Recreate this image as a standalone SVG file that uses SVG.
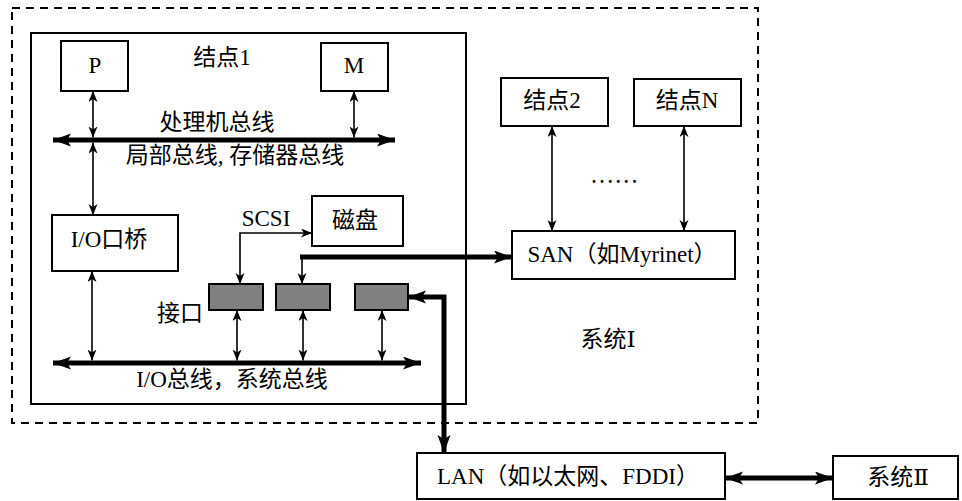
<svg xmlns="http://www.w3.org/2000/svg" width="962" height="501" viewBox="0 0 962 501">
<style>
  text { font-family: "Liberation Serif", "DejaVu Serif", "Noto Sans CJK SC", serif; font-size: 23px; fill: #000; text-anchor: middle; }
  .box { fill: #fff; stroke: #000; stroke-width: 2; }
  .iface { fill: #808080; stroke: #000; stroke-width: 2; }
  .thin { fill: none; stroke: #000; stroke-width: 1.6; marker-start: url(#a); marker-end: url(#a); }
  .thin1 { fill: none; stroke: #000; stroke-width: 1.6; marker-end: url(#a); }
  .thick { fill: none; stroke: #000; stroke-width: 5; marker-start: url(#b); marker-end: url(#b); }
  .thick1 { fill: none; stroke: #000; stroke-width: 5; marker-end: url(#b); }
</style>
<defs>
  <marker id="a" markerUnits="userSpaceOnUse" markerWidth="12" markerHeight="10" refX="11" refY="4.5" orient="auto-start-reverse" viewBox="0 0 12 10">
    <path d="M0,0 L11,4.5 L0,9 L3,4.5 z" fill="#000"/>
  </marker>
  <marker id="b" markerUnits="userSpaceOnUse" markerWidth="20" markerHeight="14" refX="18" refY="6.5" orient="auto-start-reverse" viewBox="0 0 20 14">
    <path d="M0,0 L18,6.5 L0,13 L4,6.5 z" fill="#000"/>
  </marker>
</defs>

<g id="system1">
  <rect x="12" y="8" width="746" height="415" fill="none" stroke="#000" stroke-width="2" stroke-dasharray="8 6"/>
  <text x="608" y="347">系统Ⅰ</text>
</g>

<g id="node1">
  <rect class="box" x="31" y="33" width="435" height="371"/>
  <text x="222" y="65">结点1</text>
</g>

<g id="P"><rect class="box" x="61" y="41" width="67" height="50"/><text x="95" y="73">P</text></g>
<g id="M"><rect class="box" x="321" y="43" width="67" height="48"/><text x="354" y="73">M</text></g>
<g id="io-bridge"><rect class="box" x="52" y="215" width="126" height="56"/><text x="109" y="247">I/O口桥</text></g>
<g id="disk"><rect class="box" x="312" y="196" width="91" height="50"/><text x="355" y="228">磁盘</text></g>
<g id="if1"><rect class="iface" x="209" y="284" width="54" height="26"/></g>
<g id="if2"><rect class="iface" x="276" y="284" width="54" height="26"/></g>
<g id="if3"><rect class="iface" x="355" y="284" width="53" height="26"/></g>
<g id="node2"><rect class="box" x="501" y="78" width="107" height="48"/><text x="552" y="108">结点2</text></g>
<g id="nodeN"><rect class="box" x="634" y="79" width="107" height="47"/><text x="687" y="108">结点N</text></g>
<g id="san"><rect class="box" x="512" y="231" width="223" height="48"/><text x="622" y="262">SAN（如Myrinet）</text></g>
<g id="lan"><rect class="box" x="417" y="453" width="308" height="46"/><text x="568" y="484">LAN（如以太网、FDDI）</text></g>
<g id="system2"><rect class="box" x="833" y="456" width="125" height="43"/><text x="898" y="485">系统Ⅱ</text></g>

<g id="labels">
  <text x="217" y="130">处理机总线</text>
  <text x="235" y="163">局部总线, 存储器总线</text>
  <text x="266" y="226">SCSI</text>
  <text x="180" y="321">接口</text>
  <text x="232" y="387">I/O总线，系统总线</text>
  <text x="616" y="183" style="font-weight:bold;font-size:18px;letter-spacing:3.6px">......</text>
</g>

<g id="connectors">
  <path class="thick" d="M53,140 H395"/>
  <path class="thick" d="M53,363 H421"/>
  <path class="thin" d="M93,91 V137.5"/>
  <path class="thin" d="M354,91 V137.5"/>
  <path class="thin" d="M93,142.5 V215"/>
  <path class="thin" d="M92,271 V360.5"/>
  <path class="thin" d="M237,310 V360.5"/>
  <path class="thin" d="M303,310 V360.5"/>
  <path class="thin" d="M382,310 V360.5"/>
  <path class="thin" d="M552,126 V231"/>
  <path class="thin" d="M684,126 V231"/>
  <path class="thin" d="M240,284 V233 H312"/>
  <path class="thin1" d="M302,259 V284"/>
  <path class="thick1" d="M300,257 H512"/>
  <path class="thick" d="M408,297 H444 V453"/>
  <path class="thick" d="M725,478 H833"/>
</g>
</svg>
